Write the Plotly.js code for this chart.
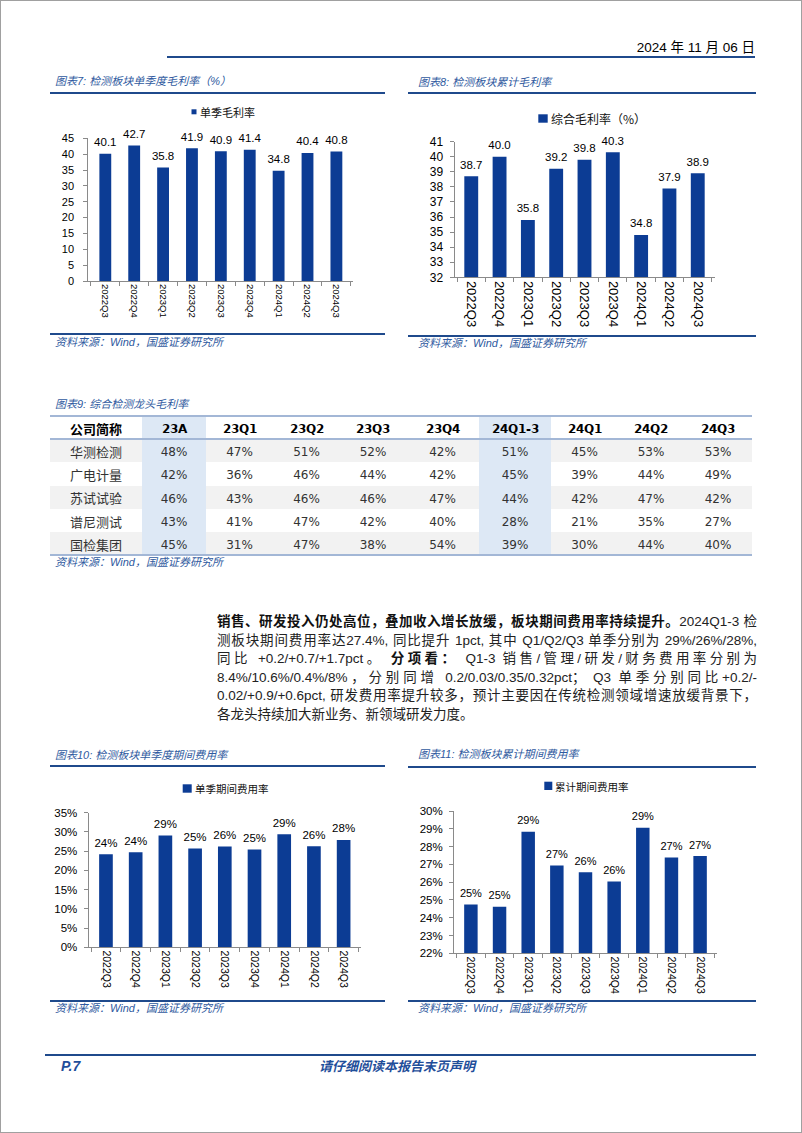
<!DOCTYPE html>
<html><head><meta charset="utf-8">
<script src="https://cdn.plot.ly/plotly-3.0.1.min.js"></script>
<style>
@font-face{font-family:"TblBoldLatin";src:local("DejaVu Sans Bold"),local("DejaVuSans-Bold");font-weight:100 900;}
@font-face{font-family:"TblBoldCJK";src:local("Noto Sans CJK SC Bold"),local("NotoSansCJKsc-Bold"),local("Noto Sans CJK SC:style=Bold");font-weight:100 900;}
html,body{margin:0;padding:0;background:#fff;}
#page{position:relative;width:802px;height:1133px;overflow:hidden;background:#fff;}
#plot{position:absolute;left:0;top:0;width:802px;height:1133px;}
#overlay{position:absolute;left:0;top:0;width:802px;height:1133px;pointer-events:none;z-index:5;}
#frame{position:absolute;left:0;top:0;width:800px;height:1131px;border:1px solid #a0a0a0;}
.t{position:absolute;white-space:nowrap;}
.cap{font-family:"Liberation Sans","Noto Sans CJK SC",sans-serif;font-style:italic;font-size:11px;color:#2F5AA0;height:16px;line-height:16px;}
.rule{position:absolute;height:2px;background:#1F4A8C;}
.trule{position:absolute;left:50px;width:702px;height:2px;background:#A3B7D6;}
.ln{position:absolute;left:217px;width:540px;height:18px;line-height:18px;font-family:"Liberation Sans","Noto Sans CJK SC",sans-serif;font-size:13.5px;color:#222;text-align:justify;text-align-last:justify;}
.ln.last{text-align:left;text-align-last:left;}
b{font-weight:700;color:#111;}
</style></head>
<body>
<div id="page">
<div id="plot"></div>
<div id="overlay">
  <div id="frame"></div>
  <div class="t" style="right:47px;top:39px;font-family:'Liberation Sans','Noto Sans CJK SC',sans-serif;font-size:13.5px;line-height:18px;color:#000;">2024 年 11 月 06 日</div>
  <div class="rule" style="left:167px;top:56px;width:588px;"></div>

  <div class="t cap" style="left:55px;top:73px;">图表7: 检测板块单季度毛利率（%）</div>
  <div class="rule" style="left:50px;top:92px;width:335px;"></div>
  <div class="t cap" style="left:418px;top:74px;">图表8: 检测板块累计毛利率</div>
  <div class="rule" style="left:408px;top:92px;width:348px;"></div>
  <div class="rule" style="left:50px;top:333px;width:335px;"></div>
  <div class="t cap" style="left:55px;top:334px;">资料来源：Wind，国盛证券研究所</div>
  <div class="rule" style="left:408px;top:335px;width:348px;"></div>
  <div class="t cap" style="left:418px;top:335px;">资料来源：Wind，国盛证券研究所</div>

  <div class="t cap" style="left:55px;top:396px;">图表9: 综合检测龙头毛利率</div>
  <div class="trule" style="top:415px;"></div>
  <div class="trule" style="top:438.2px;"></div>
  <div class="trule" style="top:553.5px;"></div>
  <div class="t cap" style="left:55px;top:554px;">资料来源：Wind，国盛证券研究所</div>

  <div class="ln" style="top:613px;"><b>销售、研发投入仍处高位，叠加收入增长放缓，板块期间费用率持续提升。</b>2024Q1-3 检</div>
  <div class="ln" style="top:632px;">测板块期间费用率达27.4%, 同比提升 1pct, 其中 Q1/Q2/Q3 单季分别为 29%/26%/28%,</div>
  <div class="ln" style="top:650px;">同比 +0.2/+0.7/+1.7pct。 <b>分项看：</b> Q1-3 销售/管理/研发/财务费用率分别为</div>
  <div class="ln" style="top:669px;">8.4%/10.6%/0.4%/8%，分别同增 0.2/0.03/0.35/0.32pct； Q3 单季分别同比+0.2/-</div>
  <div class="ln" style="top:687px;">0.02/+0.9/+0.6pct, 研发费用率提升较多，预计主要因在传统检测领域增速放缓背景下，</div>
  <div class="ln last" style="top:706px;">各龙头持续加大新业务、新领域研发力度。</div>

  <div class="t cap" style="left:55px;top:747px;">图表10: 检测板块单季度期间费用率</div>
  <div class="rule" style="left:50px;top:765px;width:335px;"></div>
  <div class="t cap" style="left:418px;top:746px;">图表11: 检测板块累计期间费用率</div>
  <div class="rule" style="left:408px;top:766px;width:348px;"></div>
  <div class="rule" style="left:50px;top:1000px;width:335px;"></div>
  <div class="t cap" style="left:55px;top:1000px;">资料来源：Wind，国盛证券研究所</div>
  <div class="rule" style="left:408px;top:1000px;width:348px;"></div>
  <div class="t cap" style="left:418px;top:1000px;">资料来源：Wind，国盛证券研究所</div>

  <div class="rule" style="left:45px;top:1054px;width:711px;"></div>
  <div class="t" style="left:61px;top:1057px;font-family:'Liberation Sans',sans-serif;font-weight:700;font-style:italic;font-size:14px;line-height:18px;color:#1F4E9A;">P.7</div>
  <div class="t" style="left:319px;top:1057px;font-family:'Noto Sans CJK SC',sans-serif;font-weight:700;font-style:italic;font-size:13px;line-height:18px;color:#1F4E9A;">请仔细阅读本报告末页声明</div>
</div>
</div>
<script>
// ---------- data ----------
const categories = ['2022Q3','2022Q4','2023Q1','2023Q2','2023Q3','2023Q4','2024Q1','2024Q2','2024Q3'];
const quarterlyGrossMargin = [40.1, 42.7, 35.8, 41.9, 40.9, 41.4, 34.8, 40.4, 40.8];
const cumulativeGrossMargin = [38.7, 40.0, 35.8, 39.2, 39.8, 40.3, 34.8, 37.9, 38.9];
const quarterlyExpenseRate = [24.2, 24.7, 29.1, 25.7, 26.2, 25.4, 29.4, 26.3, 27.9];
const quarterlyExpenseLabels = ['24%','24%','29%','25%','26%','25%','29%','26%','28%'];
const cumulativeExpenseRate = [24.75, 24.62, 28.83, 26.93, 26.55, 26.04, 29.06, 27.39, 27.47];
const cumulativeExpenseLabels = ['25%','25%','29%','27%','26%','26%','29%','27%','27%'];

const seriesNames = ['单季毛利率', '综合毛利率（%）', '单季期间费用率', '累计期间费用率'];

const tableColumns = ['公司简称','23A','23Q1','23Q2','23Q3','23Q4','24Q1-3','24Q1','24Q2','24Q3'];
const companies = ['华测检测','广电计量','苏试试验','谱尼测试','国检集团'];
const huaceMargins     = [48, 47, 51, 52, 42, 51, 45, 53, 53];
const guangdianMargins = [42, 36, 46, 44, 42, 45, 39, 44, 49];
const sushiMargins     = [46, 43, 46, 46, 47, 44, 42, 47, 42];
const puniMargins      = [43, 41, 47, 42, 40, 28, 21, 35, 27];
const guojianMargins   = [45, 31, 47, 38, 54, 39, 30, 44, 40];
const highlightedPeriods = ['23A','24Q1-3'];

// ---------- helpers ----------
const W = 802, H = 1133;
const fx = x => x / W;
const fy = y => 1 - y / H;
const BAR = '#0C3C94';
const AX = '#8A8A8A';
const NUM = '"Liberation Sans", Arial, sans-serif';
const CJK = '"Noto Sans CJK SC", sans-serif';

function xAx(x0, x1, yId, size) {
  return {domain:[fx(x0), fx(x1)], anchor:yId, type:'category', showline:true, linecolor:AX, linewidth:1,
    ticks:'outside', tickson:'boundaries', ticklen:4, tickcolor:AX, tickangle:90,
    tickfont:{family:NUM, size:size, color:'#000'}, showgrid:false, zeroline:false, fixedrange:true};
}
function yAx(yb, yt, xId, range, dtick, suffix, size, standoff) {
  return {domain:[fy(yb), fy(yt)], anchor:xId, range:range, dtick:dtick, tick0:range[0], ticksuffix:suffix,
    showline:true, linecolor:AX, linewidth:1, ticks:'outside', ticklen:4, tickcolor:AX,
    tickfont:{family:NUM, size:size, color:'#000'}, showgrid:false, zeroline:false, fixedrange:true,
    ticklabelstandoff:standoff};
}
function bars(y, xa, ya, width, name) {
  return {type:'bar', x:categories, y:y, xaxis:xa, yaxis:ya, width:width, name:name,
    marker:{color:BAR}, showlegend:false, hoverinfo:'skip'};
}
function labels(y, text, xa, ya, size) {
  return {type:'scatter', mode:'markers+text', x:categories, y:y, text:text, xaxis:xa, yaxis:ya,
    textposition:'top center', textfont:{family:NUM, size:size, color:'#000'},
    marker:{size:6, opacity:0}, cliponaxis:false, showlegend:false, hoverinfo:'skip'};
}
function legendRect(x0, y0, x1, y1) {
  return {type:'rect', xref:'paper', yref:'paper', x0:fx(x0), x1:fx(x1), y0:fy(y1), y1:fy(y0),
    fillcolor:BAR, line:{width:0}};
}
function legendText(x, y, text, size) {
  return {xref:'paper', yref:'paper', x:fx(x), y:fy(y), xanchor:'left', yanchor:'middle', text:text,
    showarrow:false, font:{family:CJK, size:size, color:'#111'}};
}

// ---------- table (header is the first row of cells) ----------
const marginRows = [huaceMargins, guangdianMargins, sushiMargins, puniMargins, guojianMargins];
const HL = '#DDE8F5';
const TBLFONT = '"DejaVu Sans", "Noto Sans CJK SC", sans-serif';
const TBLBOLD = '"TblBoldLatin", "TblBoldCJK", "DejaVu Sans", "Noto Sans CJK SC", sans-serif';
const cellValues = tableColumns.map((c, j) =>
  [c].concat(j === 0 ? companies : marginRows.map(r => r[j-1] + '%')));
const rowIdx = cellValues[0].map((_, r) => r);
const cellFill = tableColumns.map(c => highlightedPeriods.includes(c)
  ? rowIdx.map(() => HL)
  : rowIdx.map(r => r === 0 ? '#FFFFFF' : (r % 2 === 1 ? '#F2F2F2' : '#FFFFFF')));
const cellSize = tableColumns.map((c, j) => rowIdx.map(r => j === 0 ? 13 : (r === 0 ? 11.5 : 12)));
const cellColor = tableColumns.map(() => rowIdx.map(r => r === 0 ? '#000000' : '#333333'));
const cellFamily = tableColumns.map(() => rowIdx.map(r => r === 0 ? TBLBOLD : TBLFONT));
const cellWeight = tableColumns.map(() => rowIdx.map(r => r === 0 ? 'bold' : 'normal'));

// Plotly keeps a 16px strip for the (empty) header, so the domain starts 16px above the first row.
const tableTrace = {
  type:'table',
  domain:{x:[fx(50), fx(752)], y:[fy(565), fy(400)]},
  columnwidth:[92, 64, 67, 67, 66, 73, 72, 67, 66, 68],
  header:{values:[], height:0, line:{width:0}, fill:{color:'rgba(0,0,0,0)'}},
  cells:{values:cellValues, height:23.2, align:'center',
    fill:{color:cellFill}, line:{width:0, color:'rgba(0,0,0,0)'},
    font:{family:cellFamily, size:cellSize, color:cellColor, weight:cellWeight}}
};

// ---------- traces ----------
const data = [
  bars(quarterlyGrossMargin, 'x', 'y', 0.41, seriesNames[0]),
  labels(quarterlyGrossMargin, quarterlyGrossMargin.map(v => v.toFixed(1)), 'x', 'y', 11.5),
  bars(cumulativeGrossMargin, 'x2', 'y2', 0.49, seriesNames[1]),
  labels(cumulativeGrossMargin, cumulativeGrossMargin.map(v => v.toFixed(1)), 'x2', 'y2', 11.5),
  bars(quarterlyExpenseRate, 'x3', 'y3', 0.46, seriesNames[2]),
  labels(quarterlyExpenseRate, quarterlyExpenseLabels, 'x3', 'y3', 11.5),
  bars(cumulativeExpenseRate, 'x4', 'y4', 0.47, seriesNames[3]),
  labels(cumulativeExpenseRate, cumulativeExpenseLabels, 'x4', 'y4', 11),
  tableTrace
];

const layout = {
  width:W, height:H, margin:{l:0, r:0, t:0, b:0}, paper_bgcolor:'#FFFFFF', plot_bgcolor:'rgba(0,0,0,0)',
  showlegend:false, bargap:0.5,
  xaxis:  xAx(88.3, 353.4, 'y', 9.5),
  yaxis:  yAx(281, 138.3, 'x', [0, 45], 5, '', 11, 7),
  xaxis2: xAx(454.5, 714.5, 'y2', 13),
  yaxis2: yAx(277.3, 141.7, 'x2', [32, 41], 1, '', 12, 4),
  xaxis3: xAx(88.6, 361, 'y3', 10.5),
  yaxis3: yAx(947.3, 812.7, 'x3', [0, 35], 5, '%', 11.5, 4),
  xaxis4: xAx(454, 717, 'y4', 10.5),
  yaxis4: yAx(953.3, 811, 'x4', [22, 30], 1, '%', 11.5, 4),
  shapes:[
    legendRect(191.5, 109.3, 196.5, 114.3),
    legendRect(538.3, 114.3, 547.7, 122.7),
    legendRect(182.7, 784.3, 191.7, 792.7),
    legendRect(544.3, 781.7, 552.3, 790)
  ],
  annotations:[
    legendText(197.5, 111.7, seriesNames[0], 11),
    legendText(548.5, 118.5, seriesNames[1], 12),
    legendText(192.5, 788.5, seriesNames[2], 10.5),
    legendText(552.5, 786, seriesNames[3], 10.5)
  ]
};

Plotly.newPlot('plot', data, layout, {displayModeBar:false, staticPlot:true});
</script>
</body></html>
